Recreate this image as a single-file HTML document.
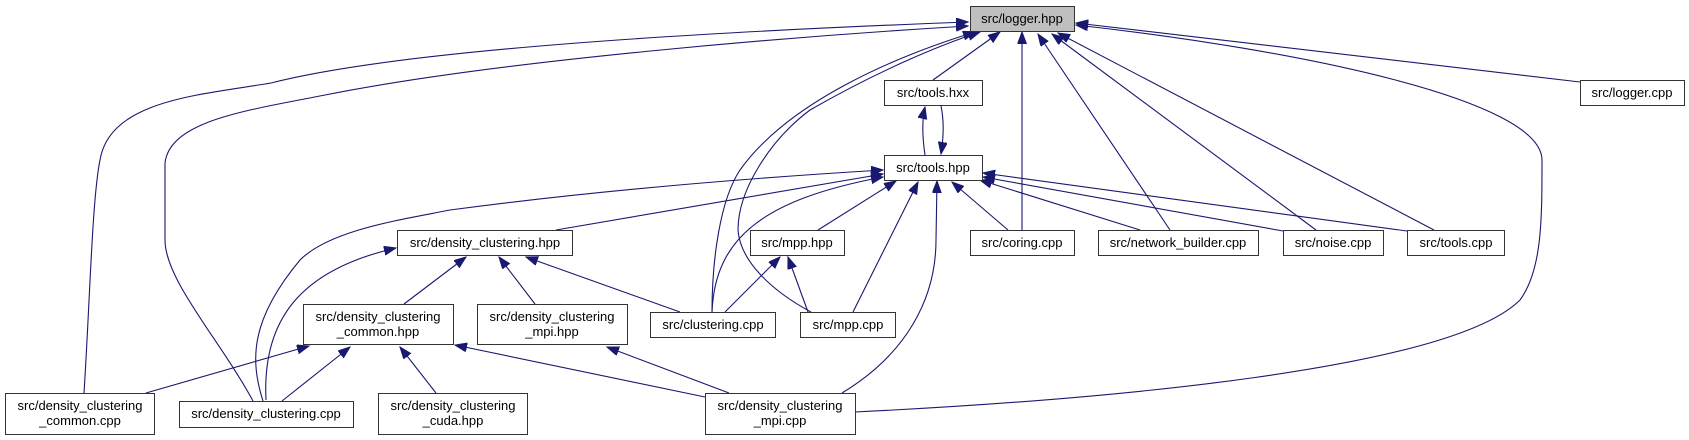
<!DOCTYPE html>
<html><head><meta charset="utf-8"><style>
html,body{margin:0;padding:0;background:#fff;}
svg{display:block;}
text{font-family:"Liberation Sans",Arial,sans-serif;font-size:13px;fill:#000;}
</style></head><body>
<svg width="1689" height="440" viewBox="0 0 1689 440" xmlns="http://www.w3.org/2000/svg">
<defs>
<marker id="a" markerWidth="13" markerHeight="10" refX="12" refY="4.5" orient="auto" markerUnits="userSpaceOnUse">
<path d="M0,0 L12,4.5 L0,9 z" fill="#191970" stroke="#191970"/>
</marker>
</defs>
<g fill="none" stroke="#191970" stroke-width="1.1" marker-end="url(#a)">
<path d="M84,393 C90,300 92,200 100,160 C110,100 200,95 271,83 C400,50 700,32 968,22"/>
<path d="M253,401 C220,340 165,280 165,240 L165,163 C170,120 250,110 325,95 C500,60 800,36 968,26"/>
<path d="M712,312 C712,260 720,200 740,170 C790,100 900,55 975,32"/>
<path d="M811,312 C770,290 740,260 738,230 C738,190 770,140 810,110 C880,70 940,45 980,32"/>
<path d="M933,80 L1000,32"/>
<path d="M1022,230 L1022,32"/>
<path d="M1170,230 L1038,34"/>
<path d="M1316,230 L1052,34"/>
<path d="M1434,230 L1058,33"/>
<path d="M855,412 C1100,400 1450,370 1520,300 C1542,270 1542,220 1542,160 C1542,100 1300,50 1076,25"/>
<path d="M1580,82 L1076,23"/>
<path d="M925,155 C922,135 922,120 925,107"/>
<path d="M941,106 C944,120 944,135 941,154"/>
<path d="M263,401 C250,360 250,320 300,260 C330,230 400,220 450,210 C600,190 750,178 883,170"/>
<path d="M556,230 L883,174"/>
<path d="M712,312 C715,240 760,200 883,177"/>
<path d="M818,230 L896,181"/>
<path d="M853,312 L918,182"/>
<path d="M842,393 C905,355 936,300 936,240 L937,181"/>
<path d="M1008,230 L952,182"/>
<path d="M1140,230 L980,180"/>
<path d="M1283,231 L983,177"/>
<path d="M1407,231 L983,173"/>
<path d="M266,400 C262,320 300,270 396,248"/>
<path d="M404,304 L466,257"/>
<path d="M535,304 L499,257"/>
<path d="M680,312 L526,257"/>
<path d="M725,312 L780,257"/>
<path d="M808,312 L788,257"/>
<path d="M146,393 L309,346"/>
<path d="M282,401 L350,347"/>
<path d="M436,393 L400,347"/>
<path d="M705,397 L455,345"/>
<path d="M729,393 L607,347"/>
</g>
<g stroke="#333" stroke-width="1">
<rect x="970.5" y="6.5" width="104" height="25" fill="#bfbfbf"/>
<rect x="884.5" y="80.5" width="98" height="25" fill="#fff"/>
<rect x="884.5" y="155.5" width="98" height="25" fill="#fff"/>
<rect x="1580.5" y="80.5" width="104" height="25" fill="#fff"/>
<rect x="397.5" y="230.5" width="175" height="25" fill="#fff"/>
<rect x="750.5" y="230.5" width="94" height="25" fill="#fff"/>
<rect x="970.5" y="230.5" width="104" height="25" fill="#fff"/>
<rect x="1098.5" y="230.5" width="160" height="25" fill="#fff"/>
<rect x="1283.5" y="230.5" width="100" height="25" fill="#fff"/>
<rect x="1407.5" y="230.5" width="97" height="25" fill="#fff"/>
<rect x="303.5" y="304.5" width="150" height="40" fill="#fff"/>
<rect x="477.5" y="304.5" width="150" height="40" fill="#fff"/>
<rect x="650.5" y="312.5" width="125" height="25" fill="#fff"/>
<rect x="800.5" y="312.5" width="95" height="25" fill="#fff"/>
<rect x="5.5" y="393.5" width="149" height="41" fill="#fff"/>
<rect x="179.5" y="401.5" width="174" height="26" fill="#fff"/>
<rect x="378.5" y="393.5" width="149" height="41" fill="#fff"/>
<rect x="705.5" y="393.5" width="150" height="41" fill="#fff"/>
</g>
<g text-anchor="middle">
<text x="1022" y="23">src/logger.hpp</text>
<text x="933" y="97">src/tools.hxx</text>
<text x="933" y="172">src/tools.hpp</text>
<text x="1632" y="97">src/logger.cpp</text>
<text x="485" y="247">src/density_clustering.hpp</text>
<text x="797" y="247">src/mpp.hpp</text>
<text x="1022" y="247">src/coring.cpp</text>
<text x="1178" y="247">src/network_builder.cpp</text>
<text x="1333" y="247">src/noise.cpp</text>
<text x="1456" y="247">src/tools.cpp</text>
<text x="378" y="321">src/density_clustering</text>
<text x="378" y="336">_common.hpp</text>
<text x="552" y="321">src/density_clustering</text>
<text x="552" y="336">_mpi.hpp</text>
<text x="713" y="329">src/clustering.cpp</text>
<text x="848" y="329">src/mpp.cpp</text>
<text x="80" y="410">src/density_clustering</text>
<text x="80" y="425">_common.cpp</text>
<text x="266" y="418">src/density_clustering.cpp</text>
<text x="453" y="410">src/density_clustering</text>
<text x="453" y="425">_cuda.hpp</text>
<text x="780" y="410">src/density_clustering</text>
<text x="780" y="425">_mpi.cpp</text>
</g>
</svg>
</body></html>
